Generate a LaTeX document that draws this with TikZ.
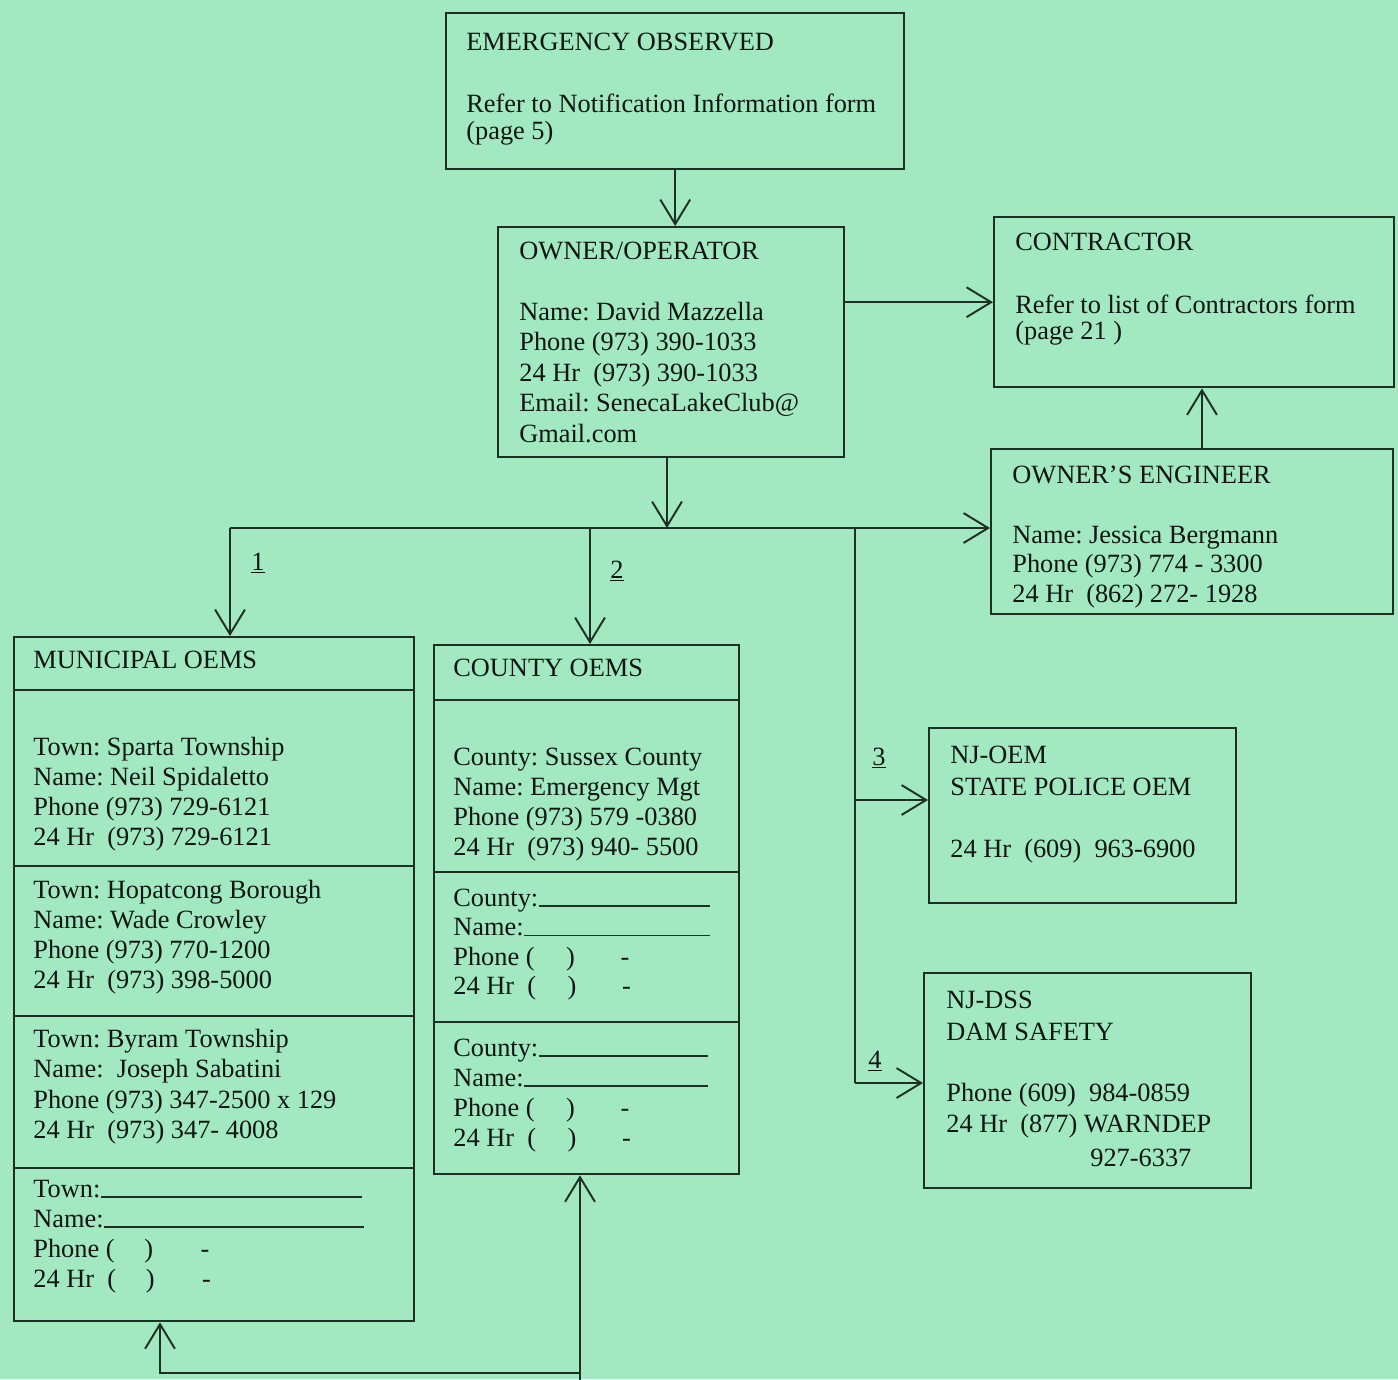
\documentclass[tikz,border=0pt]{standalone}
\usepackage{fontspec}
\setmainfont{Liberation Serif}
\usetikzlibrary{arrows.meta}
\definecolor{bg}{RGB}{162,233,194}
\definecolor{ink}{RGB}{30,48,35}
\definecolor{txtc}{RGB}{16,22,18}
\frenchspacing
\begin{document}
\begin{tikzpicture}[x=0.02cm,y=-0.02cm,
  box/.style={draw=ink,line width=1.4pt,rectangle,inner sep=0pt,anchor=north west},
  txt/.style={anchor=base west,inner sep=0pt,text=txtc,font=\fontsize{15}{17}\selectfont},
  conn/.style={draw=ink,line width=1.1pt},
  arr/.style={conn,-{Straight Barb[length=14pt,width=17pt,line width=1.1pt]}},
  arrboth/.style={conn,{Straight Barb[length=14pt,width=17pt,line width=1.1pt]}-{Straight Barb[length=14pt,width=17pt,line width=1.1pt]}},
  div/.style={draw=ink,line width=1.3pt},
  uline/.style={draw=ink,line width=0.8pt}]
\fill[bg] (0,0) rectangle (1398,1379);
\useasboundingbox (0,0) rectangle (1398,1379);

% boxes
\node[box,minimum width=9.16cm,minimum height=3.12cm] (emerg) at (445,12) {};
\node[box,minimum width=6.92cm,minimum height=4.6cm] (owner) at (497,226) {};
\node[box,minimum width=8.0cm,minimum height=3.4cm] (contr) at (993,216) {};
\node[box,minimum width=8.04cm,minimum height=3.3cm] (engr) at (990,448) {};
\node[box,minimum width=8.0cm,minimum height=13.68cm] (muni) at (13,636) {};
\node[box,minimum width=6.1cm,minimum height=10.58cm] (county) at (433,644) {};
\node[box,minimum width=6.14cm,minimum height=3.5cm] (njoem) at (928,727) {};
\node[box,minimum width=6.54cm,minimum height=4.3cm] (njdss) at (923,972) {};

% dividers
\foreach \y in {690,866,1016,1168} \draw[div] (muni.west |- 0,\y) -- (muni.east |- 0,\y);
\foreach \y in {700,872,1022} \draw[div] (county.west |- 0,\y) -- (county.east |- 0,\y);

% texts
\node[txt] (e1) at (466,50) {EMERGENCY OBSERVED};
\node[txt] (e2) at (466,112) {Refer to Notification Information form};
\node[txt] (e3) at (466,139) {(page 5)};

\node[txt] (o0) at (519,259) {OWNER/OPERATOR};
\foreach \t [count=\i from 1] in {{Name: David Mazzella},{Phone (973) 390-1033},{24 Hr\ \ (973) 390-1033},{Email: SenecaLakeClub@},{Gmail.com}}
  \node[txt] (o\i) at (519,{320+30.5*(\i-1)}) {\t};

\node[txt] (c1) at (1015,250) {CONTRACTOR};
\node[txt] (c2) at (1015,313) {Refer to list of Contractors form};
\node[txt] (c3) at (1015,339) {(page 21 )};

\node[txt] (g0) at (1012,483) {OWNER’S ENGINEER};
\foreach \t [count=\i from 1] in {{Name: Jessica Bergmann},{Phone (973) 774 - 3300},{24 Hr\ \ (862) 272- 1928}}
  \node[txt] (g\i) at (1012,{543+29.5*(\i-1)}) {\t};

\node[txt] (m0) at (33,668) {MUNICIPAL OEMS};
\foreach \t [count=\i from 0] in {{Town: Sparta Township},{Name: Neil Spidaletto},{Phone (973) 729-6121},{24 Hr\ \ (973) 729-6121}}
  \node[txt] (mA\i) at (33,{755+30.3*\i}) {\t};
\foreach \t [count=\i from 0] in {{Town: Hopatcong Borough},{Name: Wade Crowley},{Phone (973) 770-1200},{24 Hr\ \ (973) 398-5000}}
  \node[txt] (mB\i) at (33,{898+30*\i}) {\t};
\foreach \t [count=\i from 0] in {{Town: Byram Township},{Name:\ \ Joseph Sabatini},{Phone (973) 347-2500 x 129},{24 Hr\ \ (973) 347- 4008}}
  \node[txt] (mC\i) at (33,{1047+30.5*\i}) {\t};
\foreach \t [count=\i from 0] in {{Town:},{Name:},{Phone (\hspace{17pt})\hspace{27pt}-},{24 Hr\ \ (\hspace{17pt})\hspace{27pt}-}}
  \node[txt] (mD\i) at (33,{1197+30*\i}) {\t};
\draw[uline] (mD0.base east) -- (mD0.base east -| 362,0);
\draw[uline] (mD1.base east) -- (mD1.base east -| 364,0);

\node[txt] (k0) at (453,676) {COUNTY OEMS};
\foreach \t [count=\i from 0] in {{County: Sussex County},{Name: Emergency Mgt},{Phone (973) 579 -0380},{24 Hr\ \ (973) 940- 5500}}
  \node[txt] (kA\i) at (453,{765+30*\i}) {\t};
\foreach \t [count=\i from 0] in {{County:},{Name:},{Phone (\hspace{18pt})\hspace{26pt}-},{24 Hr\ \ (\hspace{18pt})\hspace{26pt}-}}
  \node[txt] (kB\i) at (453,{906+29.5*\i}) {\t};
\foreach \t [count=\i from 0] in {{County:},{Name:},{Phone (\hspace{18pt})\hspace{26pt}-},{24 Hr\ \ (\hspace{18pt})\hspace{26pt}-}}
  \node[txt] (kC\i) at (453,{1056+30*\i}) {\t};
\draw[uline] (kB0.base east) -- (kB0.base east -| 710,0);
\draw[uline] (kB1.base east) -- (kB1.base east -| 710,0);
\draw[uline] (kC0.base east) -- (kC0.base east -| 708,0);
\draw[uline] (kC1.base east) -- (kC1.base east -| 708,0);

\node[txt] (s1) at (950,763) {NJ-OEM};
\node[txt] (s2) at (950,795) {STATE POLICE OEM};
\node[txt] (s3) at (950,857) {24 Hr\ \ (609)\ \ 963-6900};

\node[txt] (d1) at (946,1008) {NJ-DSS};
\node[txt] (d2) at (946,1040) {DAM SAFETY};
\node[txt] (d3) at (946,1101) {Phone (609)\ \ 984-0859};
\node[txt] (d4) at (946,1132) {24 Hr\ \ (877) WARNDEP};
\node[txt] (d5) at (1090,1166) {927-6337};

% labels
\node[txt] (l1) at (251,570) {\underline{1}};
\node[txt] (l2) at (610,578) {\underline{2}};
\node[txt] (l3) at (872,765) {\underline{3}};
\node[txt] (l4) at (868,1068) {\underline{4}};

% connectors
\coordinate (b1) at (230,528);
\coordinate (b2) at (590,528);
\coordinate (b3) at (855,528);
\coordinate (b3a) at (855,800);
\coordinate (b3b) at (855,1083);
\coordinate (bl) at (160,1373);
\coordinate (br) at (580,1373);
\coordinate (bedge) at (580,1382);

\draw[arr] (emerg.south) -- (emerg.south |- owner.north);
\draw[arr] (contr.west -| owner.east) -- (contr.west);
\draw[arr] (engr.north -| 1202,0) -- (contr.south -| 1202,0);
\draw[arr] (owner.south -| 667,0) -- (b1 -| 667,0);
\draw[arr] (b1) -- (b1 -| engr.west);
\draw[arr] (b1) -- (b1 |- muni.north);
\draw[arr] (b2) -- (b2 |- county.north);
\draw[conn] (b3) -- (b3b);
\draw[arr] (b3a) -- (b3a -| njoem.west);
\draw[arr] (b3b) -- (b3b -| njdss.west);
\draw[arrboth] (muni.south -| bl) -- (bl) -- (br) -- (br |- county.south);
\draw[conn] (br) -- (bedge);
\end{tikzpicture}
\end{document}
